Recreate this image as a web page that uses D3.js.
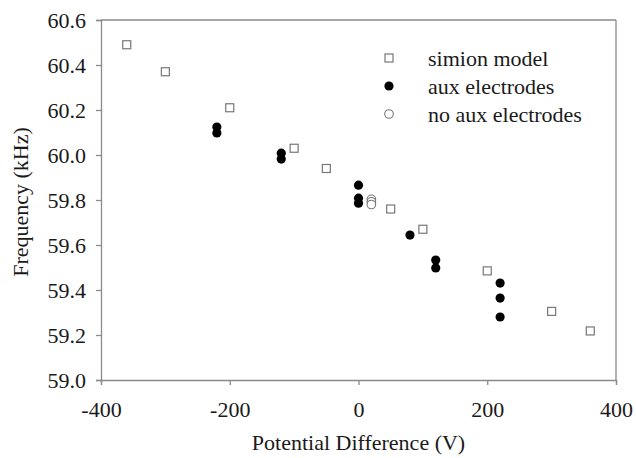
<!DOCTYPE html>
<html><head><meta charset="utf-8">
<script src="https://cdn.jsdelivr.net/npm/d3@7"></script>
<style>body{margin:0;background:#fff}svg{display:block}</style>
</head><body>
<svg id="c" width="636" height="458"></svg>
<script>
const simionX = [-360, -300, -200, -100, -50, 50, 100, 200, 300, 360];
const simionY = [60.49, 60.37, 60.21, 60.03, 59.94, 59.76, 59.67, 59.485, 59.305, 59.218];
const auxX = [-220, -220, -120, -120, 0, 0, 0, 80, 120, 120, 220, 220, 220];
const auxY = [60.124, 60.098, 60.008, 59.982, 59.866, 59.808, 59.786, 59.644, 59.533, 59.498, 59.431, 59.364, 59.28];
const noAuxX = [20, 20, 20];
const noAuxY = [59.803, 59.792, 59.78];
const xTicks = [-400, -200, 0, 200, 400];
const yTicks = [59.0, 59.2, 59.4, 59.6, 59.8, 60.0, 60.2, 60.4, 60.6];
const legendLabels = ["simion model", "aux electrodes", "no aux electrodes"];

const svg = d3.select("#c");
const L = 101, R = 616, T = 20, B = 380;
const x = d3.scaleLinear().domain([-400, 400]).range([L, R]);
const y = d3.scaleLinear().domain([59.0, 60.6]).range([B, T]);
const axisCol = "#8a8a8a";
const font = "Liberation Serif";
const txtCol = "#1a1a1a";

svg.append("line").attr("x1", L).attr("x2", R).attr("y1", T).attr("y2", T).attr("stroke", axisCol).attr("stroke-width", 1.3);
svg.append("line").attr("x1", R).attr("x2", R).attr("y1", T).attr("y2", B).attr("stroke", axisCol).attr("stroke-width", 1.3);

const xa = svg.append("g").attr("transform", `translate(0,${B})`)
  .call(d3.axisBottom(x).tickValues(xTicks).tickSize(5).tickPadding(16).tickFormat(d => String(d)));
const ya = svg.append("g").attr("transform", `translate(${L},0)`)
  .call(d3.axisLeft(y).tickValues(yTicks).tickSize(5).tickPadding(10).tickFormat(d => d.toFixed(1)));
[xa, ya].forEach(g => {
  g.attr("font-family", font);
  g.select(".domain").attr("stroke", axisCol).attr("stroke-width", 1.3);
  g.selectAll(".tick line").attr("stroke", axisCol).attr("stroke-width", 1.3);
  g.selectAll("text").attr("font-family", font).attr("font-size", 22).attr("fill", txtCol);
});
xa.selectAll("text").attr("dy", "0.71em");

svg.append("text").attr("x", x(0)).attr("y", 450).attr("text-anchor", "middle")
  .attr("font-family", font).attr("font-size", 22).attr("fill", txtCol).text("Potential Difference (V)");
svg.append("text").attr("transform", `translate(28,${(T + B) / 2 + 2}) rotate(-90)`).attr("text-anchor", "middle")
  .attr("font-family", font).attr("font-size", 22).attr("fill", txtCol).text("Frequency (kHz)");

const sq = 8;
const simion = d3.zip(simionX, simionY);
svg.append("g").selectAll("rect").data(simion).join("rect")
  .attr("x", d => x(d[0]) - sq / 2).attr("y", d => y(d[1]) - sq / 2)
  .attr("width", sq).attr("height", sq).attr("fill", "#fff").attr("stroke", "#777").attr("stroke-width", 1.2);

const noAux = d3.zip(noAuxX, noAuxY);
svg.append("g").selectAll("circle").data(noAux).join("circle")
  .attr("cx", d => x(d[0])).attr("cy", d => y(d[1])).attr("r", 4.3)
  .attr("fill", "#fff").attr("stroke", "#777").attr("stroke-width", 1.1);

const aux = d3.zip(auxX, auxY);
svg.append("g").selectAll("circle").data(aux).join("circle")
  .attr("cx", d => x(d[0])).attr("cy", d => y(d[1])).attr("r", 4.6).attr("fill", "#000");

const lg = svg.append("g");
const ly = [58, 86, 114];
lg.append("rect").attr("x", 389 - sq / 2).attr("y", ly[0] - sq / 2).attr("width", sq).attr("height", sq)
  .attr("fill", "#fff").attr("stroke", "#777").attr("stroke-width", 1.2);
lg.append("circle").attr("cx", 389).attr("cy", ly[1]).attr("r", 4.6).attr("fill", "#000");
lg.append("circle").attr("cx", 389).attr("cy", ly[2]).attr("r", 4.3).attr("fill", "#fff").attr("stroke", "#777").attr("stroke-width", 1.1);
lg.selectAll("text").data(legendLabels).join("text")
  .attr("x", 428).attr("y", (d, i) => ly[i]).attr("dy", "0.35em")
  .attr("font-family", font).attr("font-size", 22).attr("fill", txtCol).text(d => d);
</script>
</body></html>
